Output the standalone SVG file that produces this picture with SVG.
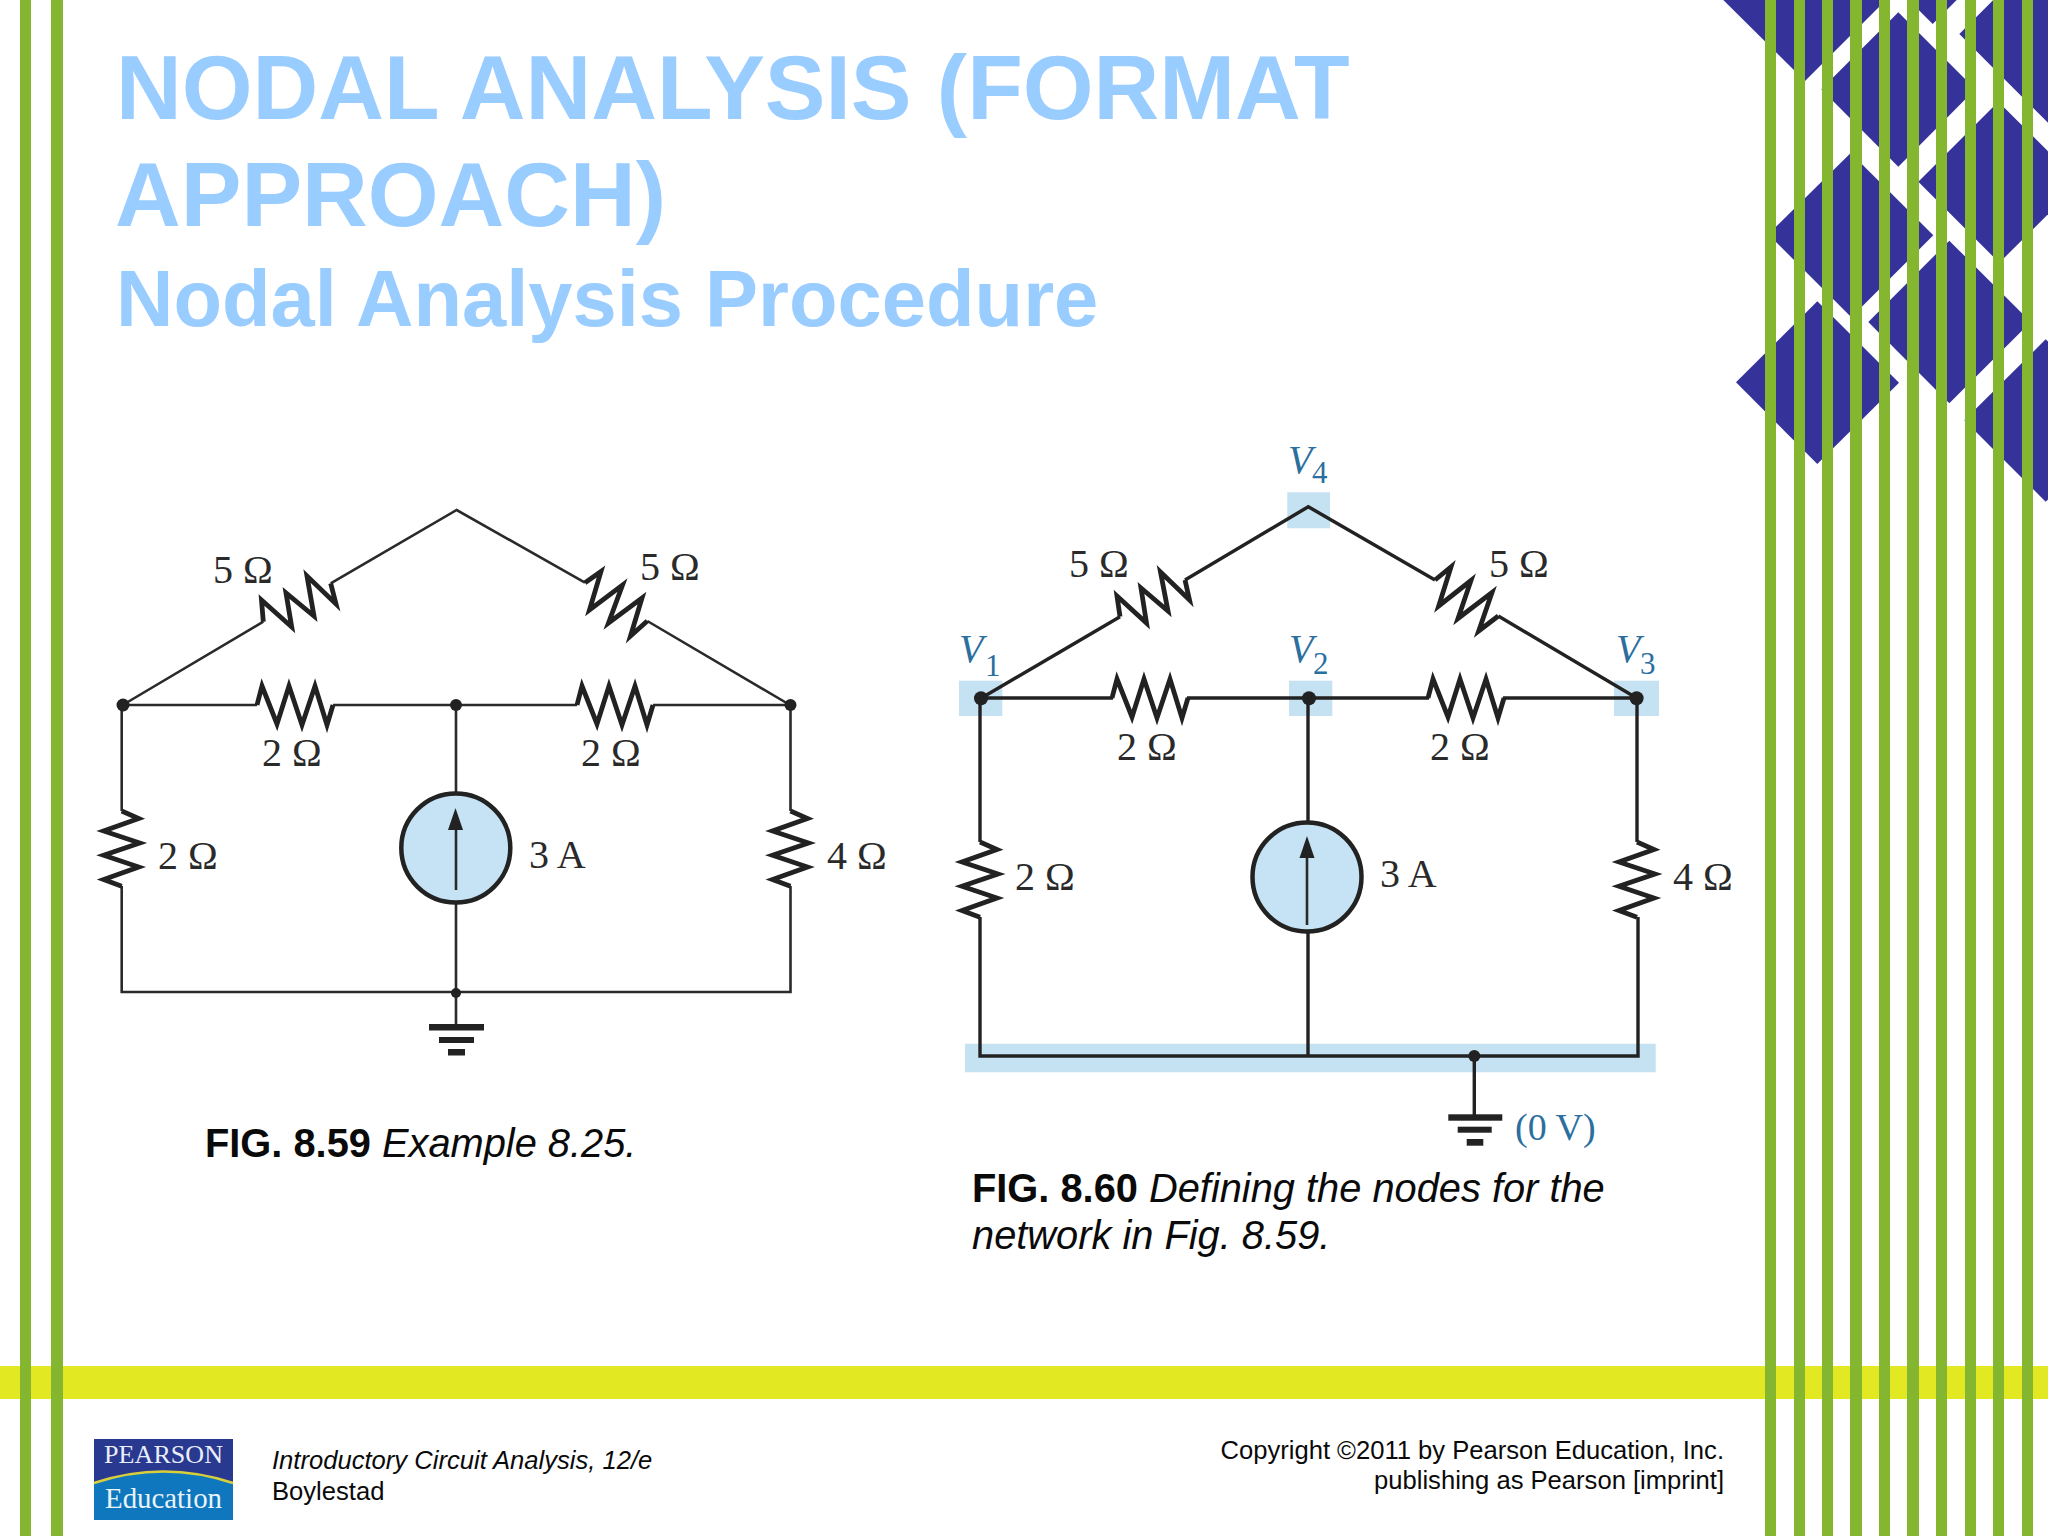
<svg xmlns="http://www.w3.org/2000/svg" width="2048" height="1536" viewBox="0 0 2048 1536">
<style>
.title{font-family:"Liberation Sans",Arial,sans-serif;font-weight:700;fill:#99ccff}
.cap{font-family:"Liberation Sans",Arial,sans-serif;font-size:39.8px;fill:#0a0a0a}
.foot{font-family:"Liberation Sans",Arial,sans-serif;font-size:25.6px;fill:#0a0a0a}
.val{font-family:"Liberation Serif","Times New Roman",serif;font-size:40px;fill:#2a2a2a}
.vn{font-family:"Liberation Serif","Times New Roman",serif;font-size:40px;font-style:italic;fill:#2b6f9f}
.vs{font-family:"Liberation Serif","Times New Roman",serif;font-size:31px;fill:#2b6f9f}
.w{fill:none;stroke:#2a2a2a;stroke-width:2.6}
.w2{fill:none;stroke:#222;stroke-width:3.4}
.z{fill:none;stroke:#222;stroke-width:4.8;stroke-linejoin:miter;stroke-miterlimit:6}
.dot{fill:#222}
.hl{fill:#c5e2f2}
.src{fill:#c5e3f5;stroke:#222;stroke-width:4.5}
.gr{fill:#222}
.dia{fill:#353399}
.gs{fill:#84b62f}
</style>
<defs>
<polyline id="rh" class="z" points="0,0 5,-19 20,19 32,-19 45,20 58,-19 70,20 76,0"/>
<polyline id="rv" class="z" points="0,0 17,7.6 -18,20 18,32 -18,44.3 17,56 -18,68.6 0,75.3"/>
</defs>
<rect width="2048" height="1536" fill="#ffffff"/>
<g id="decor-diamonds">
<polygon class="dia" points="1723.3,0 1805,81 1886,0"/>
<polygon class="dia" points="1898.3,12.3 1975.3,89.3 1898.3,166.7 1821.3,89.3"/>
<polygon class="dia" points="1908.7,0 1932.7,24 1956.7,0"/>
<polygon class="dia" points="1959.3,34 1993.3,0 2048,0 2048,122.7"/>
<polygon class="dia" points="1918.3,181.7 1998.3,101.7 2048,151.3 2048,214.3 1999.3,262.7"/>
<polygon class="dia" points="1768.3,234.3 1850.7,153 1933.3,235.3 1851.3,317.3"/>
<polygon class="dia" points="1868.3,322 1949.3,240.7 2030.7,322 1949.3,403.3"/>
<polygon class="dia" points="1736,382.3 1817.3,301.3 1899,382.7 1817.3,464"/>
<polygon class="dia" points="1964.3,420.3 2045.7,339.3 2048,341.6 2048,499.4 2045.7,501.7"/>
</g>
<g id="decor-band"><rect x="0" y="1366" width="2048" height="33" fill="#e2e822"/></g>
<g id="decor-stripes">
<rect class="gs" x="20" y="0" width="11" height="1536"/>
<rect class="gs" x="51" y="0" width="12" height="1536"/>
<rect class="gs" x="1765" y="0" width="11" height="1536"/>
<rect class="gs" x="1794" y="0" width="11" height="1536"/>
<rect class="gs" x="1822" y="0" width="11" height="1536"/>
<rect class="gs" x="1850" y="0" width="12" height="1536"/>
<rect class="gs" x="1879" y="0" width="11" height="1536"/>
<rect class="gs" x="1907" y="0" width="12" height="1536"/>
<rect class="gs" x="1936" y="0" width="11" height="1536"/>
<rect class="gs" x="1965" y="0" width="11" height="1536"/>
<rect class="gs" x="1993" y="0" width="11" height="1536"/>
<rect class="gs" x="2022" y="0" width="11" height="1536"/>
</g>
<g id="title">
<text class="title" x="116" y="119" font-size="91">NODAL ANALYSIS (FORMAT</text>
<text class="title" x="115" y="226" font-size="91">APPROACH)</text>
<text class="title" x="116" y="326" font-size="79.5">Nodal Analysis Procedure</text>
</g>
<g id="highlights">
<rect class="hl" x="959" y="680.7" width="43.3" height="35.3"/>
<rect class="hl" x="1289" y="680.7" width="43.3" height="35.3"/>
<rect class="hl" x="1287.3" y="492.3" width="42.7" height="36"/>
<rect class="hl" x="1614" y="680.7" width="45" height="35.3"/>
<rect class="hl" x="965" y="1043.7" width="690.7" height="28.6"/>
</g>
<g id="connectors">
<path class="w" d="M122.7 705L263.3 621.7M330.7 583.3L456.7 510L585 582.7M647.3 621L790 705M122.7 705H257M333 705H577M653 705H790"/>
<path class="w" d="M121.7 705V811M121.7 886V992H790.500V886M790.500 811V705M456 705V794M456 903V1025"/>
<path class="w2" d="M981 698.3L1120 616.7M1185 580L1308.3 506.7L1435 580M1498.3 616L1636.6 698M981 698H1113M1187 698H1429M1503 698H1636.6"/>
<path class="w2" d="M980 698V842M980 917V1056H1638V917M1637 842V698M1308 698V821M1308 932V1056M1474.3 1056V1115"/>
</g>
<g id="resistors-fig59">
<polyline class="z" points="263.3,621.7 261.5,600 291.7,627 286,593 314,616 307,576 336,604 330.7,583.3"/>
<polyline class="z" points="585,582.7 601,571.500 589.500,610 622.5,585 608.5,623 642,598 630.500,636 647.3,621"/>
<use href="#rh" transform="translate(257,705)"/>
<use href="#rh" transform="translate(577,705)"/>
<use href="#rv" transform="translate(121.7,811)"/>
<use href="#rv" transform="translate(790.500,811)"/>
</g>
<g id="resistors-fig60">
<polyline class="z" points="1120,616.7 1117,596 1146.500,623 1141,588 1168,611 1160.500,572 1189.500,600 1185,580"/>
<polyline class="z" points="1435,580 1451,567 1438.700,606 1471,580.500 1458,618.500 1492,592.500 1478.700,631 1498.300,616"/>
<use href="#rh" transform="translate(1112,698)"/>
<use href="#rh" transform="translate(1428,698)"/>
<use href="#rv" transform="translate(980,842)"/>
<use href="#rv" transform="translate(1637,842)"/>
</g>
<g id="source-fig59">
<circle class="src" cx="455.8" cy="848" r="54.5"/>
<path class="w" d="M456 890V825"/>
<polygon class="gr" points="455.5,808 448,830 463,830"/>
</g>
<g id="source-fig60">
<circle class="src" cx="1307" cy="877" r="54.5"/>
<path class="w" d="M1307 925V850"/>
<polygon class="gr" points="1307,836 1299.5,858 1314.5,858"/>
</g>
<g id="nodes">
<circle class="dot" cx="123" cy="705" r="6.5"/>
<circle class="dot" cx="456" cy="705" r="6"/>
<circle class="dot" cx="790.500" cy="705" r="6"/>
<circle class="dot" cx="456" cy="993" r="5"/>
<circle class="dot" cx="981" cy="698.3" r="7"/>
<circle class="dot" cx="1309" cy="698.3" r="7"/>
<circle class="dot" cx="1636.6" cy="698.3" r="7"/>
<circle class="dot" cx="1474.3" cy="1056" r="6"/>
</g>
<g id="grounds">
<rect class="gr" x="429" y="1024" width="55" height="6.5"/>
<rect class="gr" x="439" y="1037" width="35" height="6"/>
<rect class="gr" x="448" y="1049" width="17" height="6.5"/>
<rect class="gr" x="1448.3" y="1114.3" width="54" height="6.4"/>
<rect class="gr" x="1457.7" y="1126.7" width="34" height="6"/>
<rect class="gr" x="1466.7" y="1139" width="16.6" height="6.7"/>
</g>
<g id="labels-fig59">
<text class="val" x="213" y="583">5 Ω</text>
<text class="val" x="640" y="580">5 Ω</text>
<text class="val" x="262" y="766">2 Ω</text>
<text class="val" x="581" y="766">2 Ω</text>
<text class="val" x="158" y="869">2 Ω</text>
<text class="val" x="827" y="869">4 Ω</text>
<text class="val" x="529" y="868">3 A</text>
</g>
<g id="labels-fig60">
<text class="val" x="1069" y="577">5 Ω</text>
<text class="val" x="1489" y="577">5 Ω</text>
<text class="val" x="1117" y="760">2 Ω</text>
<text class="val" x="1430" y="760">2 Ω</text>
<text class="val" x="1015" y="890">2 Ω</text>
<text class="val" x="1673" y="890">4 Ω</text>
<text class="val" x="1380" y="887">3 A</text>
<text class="vn" x="959" y="662">V<tspan class="vs" x="985" y="676" font-style="normal">1</tspan></text>
<text class="vn" x="1289" y="662">V<tspan class="vs" x="1313" y="674" font-style="normal">2</tspan></text>
<text class="vn" x="1616" y="662">V<tspan class="vs" x="1640" y="674" font-style="normal">3</tspan></text>
<text class="vn" x="1288" y="473">V<tspan class="vs" x="1312" y="483" font-style="normal">4</tspan></text>
<text x="1515" y="1140" font-family="Liberation Serif, Times New Roman, serif" font-size="38" fill="#2b6f9f">(0 V)</text>
</g>
<g id="captions">
<text class="cap" x="205" y="1157"><tspan font-weight="700">FIG. 8.59 </tspan><tspan font-style="italic">Example 8.25.</tspan></text>
<text class="cap" x="972" y="1202"><tspan font-weight="700">FIG. 8.60 </tspan><tspan font-style="italic">Defining the nodes for the</tspan></text>
<text class="cap" x="972" y="1249" font-style="italic">network in Fig. 8.59.</text>
</g>
<g id="logo">
<rect x="94" y="1439" width="139" height="81" fill="#0e77bd"/>
<path d="M94 1439H233V1483Q163.5 1460 94 1483Z" fill="#2a3990"/>
<path d="M94 1483Q163.5 1460 233 1483" fill="none" stroke="#d9cf3a" stroke-width="2.5"/>
<text x="104" y="1463" font-family="Liberation Serif, Times New Roman, serif" font-size="26" fill="#e8eefa" textLength="119" lengthAdjust="spacing">PEARSON</text>
<text x="105" y="1508" font-family="Liberation Serif, Times New Roman, serif" font-size="29" fill="#e8f3fb" textLength="117" lengthAdjust="spacingAndGlyphs">Education</text>
</g>
<g id="footer">
<text class="foot" x="272" y="1469" font-style="italic">Introductory Circuit Analysis, 12/e</text>
<text class="foot" x="272" y="1500">Boylestad</text>
<text class="foot" x="1724" y="1459" text-anchor="end">Copyright ©2011 by Pearson Education, Inc.</text>
<text class="foot" x="1724" y="1489" text-anchor="end">publishing as Pearson [imprint]</text>
</g>
</svg>
